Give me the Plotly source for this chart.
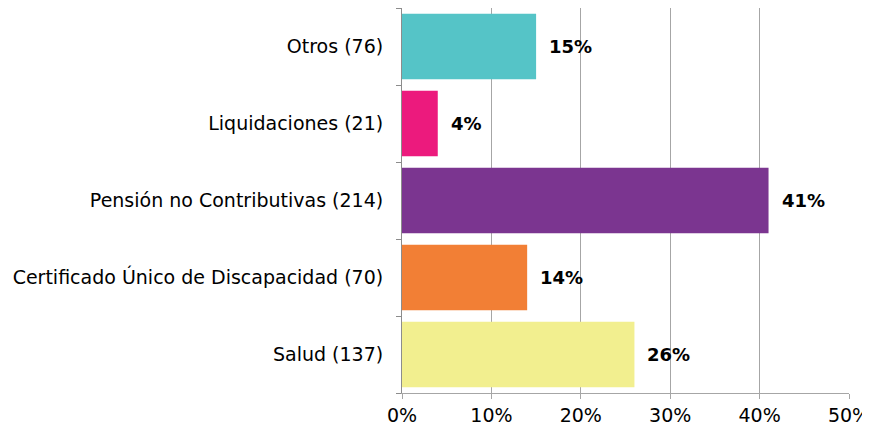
import plotly.graph_objects as go

categories = ["Salud (137)", "Certificado Único de Discapacidad (70)",
              "Pensión no Contributivas (214)", "Liquidaciones (21)", "Otros (76)"]
values = [26, 14, 41, 4, 15]
colors = ["#F2EF8F", "#F27F35", "#7B3590", "#EC1A7D", "#55C4C7"]
tick_vals = [0, 10, 20, 30, 40, 50]
tick_text = ["0%", "10%", "20%", "30%", "40%", "50%"]

FONT = "DejaVu Sans, Verdana, sans-serif"

fig = go.Figure()
fig.add_trace(go.Bar(
    y=categories, x=values, orientation="h",
    marker=dict(color=colors, line=dict(width=0)),
    width=0.85, hoverinfo="skip",
))

for c, v in zip(categories, values):
    fig.add_annotation(x=v, y=c, text=f"<b>{v}%</b>", showarrow=False,
                       xanchor="left", xshift=11,
                       font=dict(family=FONT, size=18, color="#000"))

# page body has an 8px default margin, so the figure is sized/offset to compensate
fig.update_layout(
    width=862, height=425,
    margin=dict(l=394, r=21, t=0, b=40),
    paper_bgcolor="white", plot_bgcolor="white",
    showlegend=False,
    font=dict(family=FONT, color="#000"),
    xaxis=dict(range=[0, 50], tickvals=tick_vals, ticktext=tick_text,
               showgrid=True, gridcolor="#A6A6A6", gridwidth=1,
               showline=True, linecolor="#A6A6A6", linewidth=1,
               ticks="outside", ticklen=5, tickcolor="#A6A6A6",
               tickfont=dict(size=19), zeroline=False, fixedrange=True,
               automargin=False, ticklabeloverflow="allow"),
    yaxis=dict(categoryorder="array", categoryarray=categories,
               showline=True, linecolor="#8C8C8C", linewidth=1,
               ticks="outside", ticklen=5, tickcolor="#8C8C8C",
               tickson="boundaries", showgrid=False,
               tickfont=dict(size=19), ticklabelstandoff=14, fixedrange=True,
               automargin=False),
)

fig.write_html("out.html")
